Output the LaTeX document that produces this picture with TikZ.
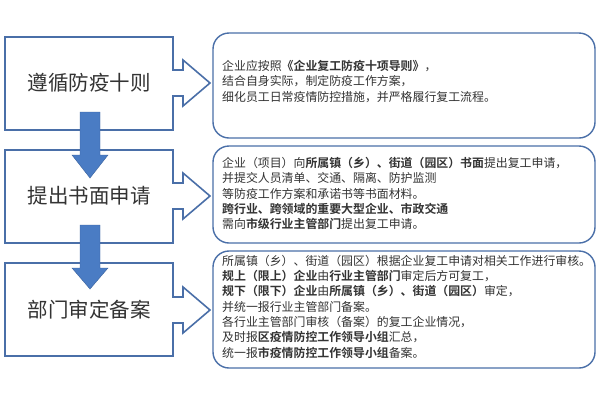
\documentclass[tikz,border=0pt]{standalone}
\usepackage{fontspec}
\setmainfont{Noto Sans CJK SC}[BoldFont={Noto Sans CJK SC Bold}]
\definecolor{bord}{HTML}{4A6FA8}
\definecolor{arr}{HTML}{4A7CC4}
\definecolor{txt}{HTML}{333333}
\begin{document}
\begin{tikzpicture}[x=1pt,y=-1pt,
  callout/.style={draw=bord,line width=1.6pt,fill=white,line join=miter},
  rbox/.style={draw=bord,line width=1.4pt,rounded corners=16pt,fill=white},
  ltext/.style={font=\fontsize{20.5}{24}\selectfont,text=txt},
  rtext/.style={font=\fontsize{11.9}{15.3}\selectfont,text=txt,align=left,anchor=north west,inner sep=0pt},
  down/.style={fill=arr,draw=arr!80!black,line width=0.4pt}]
\useasboundingbox (0,0) rectangle (600,400);
% right boxes
\draw[rbox] (213,33) rectangle (595,138);
\draw[rbox] (213,146) rectangle (595,243);
\draw[rbox] (213,251) rectangle (595,368);
% callouts
\foreach \t/\b/\c in {37/130/83, 150/243/196, 263/356/310}{
  \draw[callout] (5,\t) -- (173,\t) -- (173,\c-13) -- (183,\c-13) -- (183,\c-23) -- (210,\c) -- (183,\c+23) -- (183,\c+13) -- (173,\c+13) -- (173,\b) -- (5,\b) -- cycle;
}
\node[ltext] (l1) at (89,83) {遵循防疫十则};
\node[ltext] (l2) at (89,196) {提出书面申请};
\node[ltext] (l3) at (89,310) {部门审定备案};
% blue arrows
\draw[down] (80,112) -- (100,112) -- (100,155) -- (108,155) -- (90,178) -- (72,155) -- (80,155) -- cycle;
\draw[down] (80,225) -- (100,225) -- (100,268) -- (108,268) -- (90,289) -- (72,268) -- (80,268) -- cycle;
% texts
\node[rtext] (r1) at (222,60) {企业应按照\textbf{《企业复工防疫十项导则》}，\\结合自身实际，制定防疫工作方案，\\细化员工日常疫情防控措施，并严格履行复工流程。};
\node[rtext] (r2) at (222,157) {企业（项目）向\textbf{所属镇（乡）、街道（园区）书面}提出复工申请，\\并提交人员清单、交通、隔离、防护监测\\等防疫工作方案和承诺书等书面材料。\\\textbf{跨行业、跨领域的重要大型企业、市政交通}\\需向\textbf{市级行业主管部门}提出复工申请。};
\node[rtext] (r3) at (222,255) {所属镇（乡）、街道（园区）根据企业复工申请对相关工作进行审核。\\\textbf{规上（限上）企业}由\textbf{行业主管部门}审定后方可复工，\\\textbf{规下（限下）企业}由\textbf{所属镇（乡）、街道（园区）}审定，\\并统一报行业主管部门备案。\\各行业主管部门审核（备案）的复工企业情况，\\及时报\textbf{区疫情防控工作领导小组}汇总，\\统一报\textbf{市疫情防控工作领导小组}备案。};
\end{tikzpicture}
\end{document}
